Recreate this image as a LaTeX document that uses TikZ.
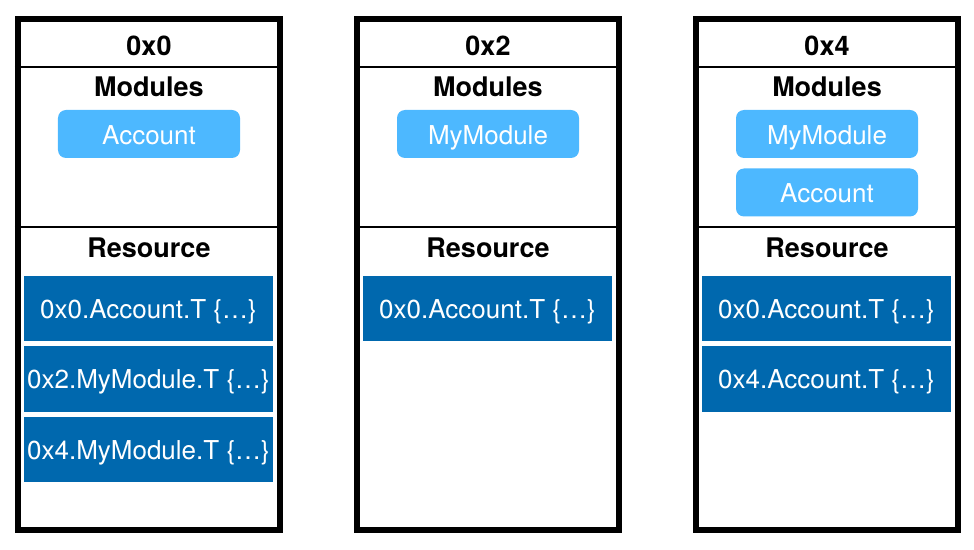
\documentclass[tikz,border=0pt]{standalone}
\usepackage{fontspec}
\setmainfont{TeX Gyre Heros}
\definecolor{pillblue}{RGB}{77,184,255}
\definecolor{resblue}{RGB}{0,104,174}
\begin{document}
\begin{tikzpicture}[x=1bp,y=-1bp,
  frame/.style={draw=black, line width=6bp, minimum width=262bp, minimum height=511bp, inner sep=0pt},
  sepline/.style={draw=black, line width=2bp},
  heading/.style={font=\fontsize{27bp}{30bp}\selectfont\bfseries, inner sep=0pt, text height=19bp, text depth=0pt},
  pill/.style={fill=pillblue, rounded corners=8bp, minimum width=182bp, minimum height=48bp, inner sep=0pt,
    text=white, font=\fontsize{26bp}{30bp}\selectfont, text height=20.5bp, text depth=0pt},
  resbox/.style={fill=resblue, minimum width=249bp, minimum height=65bp, inner sep=0pt,
    text=white, font=\fontsize{26bp}{30bp}\selectfont, text height=19.5bp, text depth=0pt}
]
\useasboundingbox (0,0) rectangle (974,550);

% column 1
\node[frame] (f0) at (149,274.5) {};
\draw[sepline] (f0.west |- 0,67) -- (f0.east |- 0,67);
\draw[sepline] (f0.west |- 0,227) -- (f0.east |- 0,227);
\node[heading] (t0) at (149,46) {0x0};
\node[heading] (m0) at (149,87.5) {Modules};
\node[heading] (r0) at (149,248.5) {Resource};
\node[pill] (p0a) at (149,134) {Account};
\node[resbox] (s0a) at (148.5,308.5) {0x0.Account.T \{…\}};
\node[resbox] (s0b) at (148.5,379) {0x2.MyModule.T \{…\}};
\node[resbox] (s0c) at (148.5,449.5) {0x4.MyModule.T \{…\}};

% column 2
\node[frame] (f2) at (488,274.5) {};
\draw[sepline] (f2.west |- 0,67) -- (f2.east |- 0,67);
\draw[sepline] (f2.west |- 0,227) -- (f2.east |- 0,227);
\node[heading] (t2) at (488,46) {0x2};
\node[heading] (m2) at (488,87.5) {Modules};
\node[heading] (r2) at (488,248.5) {Resource};
\node[pill] (p2a) at (488,134) {MyModule};
\node[resbox] (s2a) at (487.5,308.5) {0x0.Account.T \{…\}};

% column 3
\node[frame] (f4) at (827,274.5) {};
\draw[sepline] (f4.west |- 0,67) -- (f4.east |- 0,67);
\draw[sepline] (f4.west |- 0,227) -- (f4.east |- 0,227);
\node[heading] (t4) at (827,46) {0x4};
\node[heading] (m4) at (827,87.5) {Modules};
\node[heading] (r4) at (827,248.5) {Resource};
\node[pill] (p4a) at (827,134) {MyModule};
\node[pill] (p4b) at (827,192.5) {Account};
\node[resbox] (s4a) at (826.5,308.5) {0x0.Account.T \{…\}};
\node[resbox] (s4b) at (826.5,379) {0x4.Account.T \{…\}};
\end{tikzpicture}
\end{document}
